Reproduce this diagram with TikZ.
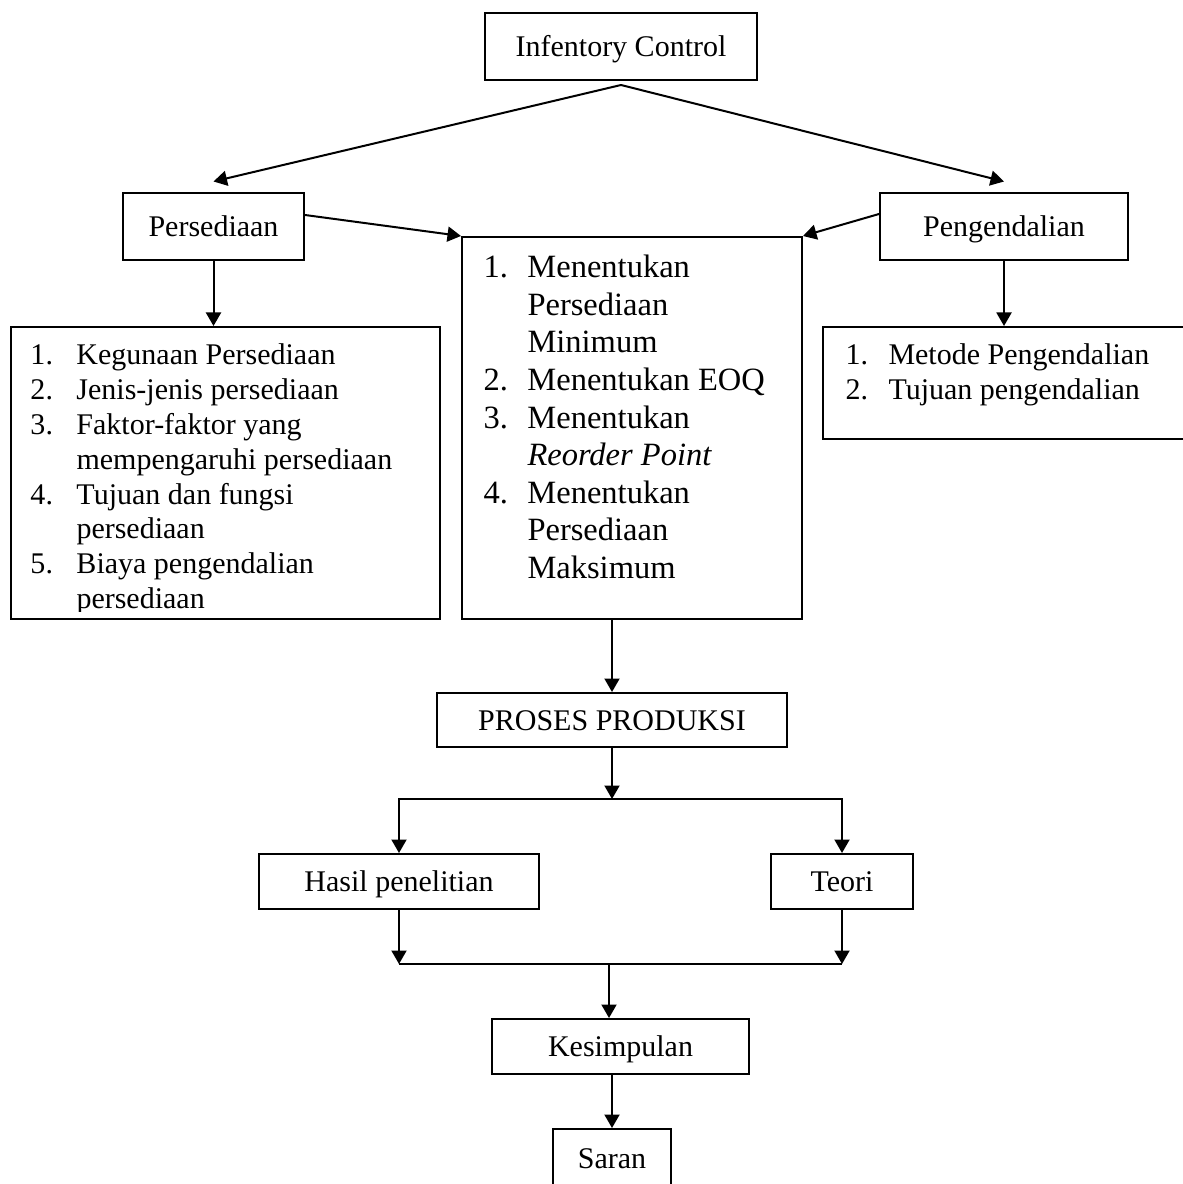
\documentclass[tikz,border=0pt]{standalone}
\usepackage{fontspec}
\setmainfont{Liberation Serif}
\usetikzlibrary{arrows.meta, positioning}

\tikzset{
  kotak/.style={draw, line width=0.8pt, inner sep=0pt, align=center,
    text height=8.2pt, text depth=0pt, font=\fontsize{12}{13.9}\selectfont},
  isi/.style={anchor=base west, inner sep=0pt},
  panah/.style={-{Triangle[length=5.4pt, width=6pt]}, line width=0.8pt},
  garis/.style={line width=0.8pt}
}

\begin{document}
\begin{tikzpicture}[x=0.4pt, y=-0.4pt]
        % page
        \path[use as bounding box] (0,0) rectangle (1183,1184);
        \clip (0,0) rectangle (1183,1184);

        % top
        \node[kotak, minimum width=108.8pt, minimum height=26.8pt] (ic) at (621,46.5) {Infentory Control};
        \coordinate (puncak) at (621,85);

        \node[kotak, minimum width=72.4pt, minimum height=26.8pt] (per) at (213.5,226.5) {Persediaan};
        \node[kotak, minimum width=99.2pt, minimum height=26.8pt] (peng) at (1004,226.5) {Pengendalian};

        % list boxes
        \node[kotak, minimum width=171.6pt, minimum height=116.8pt] (kiri) at (225.5,473) {};
        \node[kotak, minimum width=136pt, minimum height=152.8pt] (tengah) at (632,428) {};
        \node[kotak, minimum width=148.8pt, minimum height=44.8pt] (kanan) at (1009,383) {};

        \begin{scope}
          \clip (11,327) rectangle (440,611);
          \node[isi, font=\fontsize{12}{13.9}\selectfont] (kiriisi) at (30,365) {%
            \begin{tabular}[t]{@{}p{18.4pt}@{}l@{}}
              1. & Kegunaan Persediaan\\
              2. & Jenis-jenis persediaan\\
              3. & Faktor-faktor yang\\
                 & mempengaruhi persediaan\\
              4. & Tujuan dan fungsi\\
                 & persediaan\\
              5. & Biaya pengendalian\\
                 & persediaan
            \end{tabular}};
        \end{scope}

        \node[isi, font=\fontsize{13}{15}\selectfont] (tengahisi) at (483,278) {%
          \begin{tabular}[t]{@{}p{17.6pt}@{}l@{}}
            1. & Menentukan\\
               & Persediaan\\
               & Minimum\\
            2. & Menentukan EOQ\\
            3. & Menentukan\\
               & \textit{Reorder Point}\\
            4. & Menentukan\\
               & Persediaan\\
               & Maksimum
          \end{tabular}};

        \node[isi, font=\fontsize{12}{14}\selectfont] (kananisi) at (845,364) {%
          \begin{tabular}[t]{@{}p{17.2pt}@{}l@{}}
            1. & Metode Pengendalian\\
            2. & Tujuan pengendalian
          \end{tabular}};

        % bottom
        \node[kotak, minimum width=140pt, minimum height=21.6pt] (proses) at (612,720) {PROSES PRODUKSI};
        \node[kotak, minimum width=112pt, minimum height=22pt] (hasil) at (399,881.5) {Hasil penelitian};
        \node[kotak, minimum width=56.8pt, minimum height=22pt] (teori) at (842,881.5) {Teori};
        \node[kotak, minimum width=102.8pt, minimum height=22pt] (kes) at (620.5,1046.5) {Kesimpulan};
        \node[kotak, minimum width=47.2pt, minimum height=23.2pt] (saran) at (612,1158) {Saran};
        \coordinate (cabang) at (612,799);
        \coordinate (gabung) at (609,964);

        % arrows
        \draw[panah] (puncak) -- ([yshift=4.2pt]per.north);
        \draw[panah] (puncak) -- ([yshift=4.2pt]peng.north);
        \draw[panah] ([yshift=4.6pt]per.east) -- (tengah.north west);
        \draw[panah] ([yshift=5pt]peng.west) -- (tengah.north east);
        \draw[panah] (per.south) -- (per.south |- kiri.north);
        \draw[panah] (peng.south) -- (peng.south |- kanan.north);
        \draw[panah] (proses.north |- tengah.south) -- (proses.north);
        \draw[panah] (proses.south) -- (cabang);
        \draw[panah] (cabang) -| (hasil.north);
        \draw[panah] (cabang) -| (teori.north);
        \draw[panah] (hasil.south) -- (hasil.south |- gabung);
        \draw[panah] (teori.south) -- (teori.south |- gabung);
        \draw[garis] (hasil.south |- gabung) -- (teori.south |- gabung);
        \draw[panah] (gabung) -- (gabung |- kes.north);
        \draw[panah] (saran.north |- kes.south) -- (saran.north);
\end{tikzpicture}
\end{document}
